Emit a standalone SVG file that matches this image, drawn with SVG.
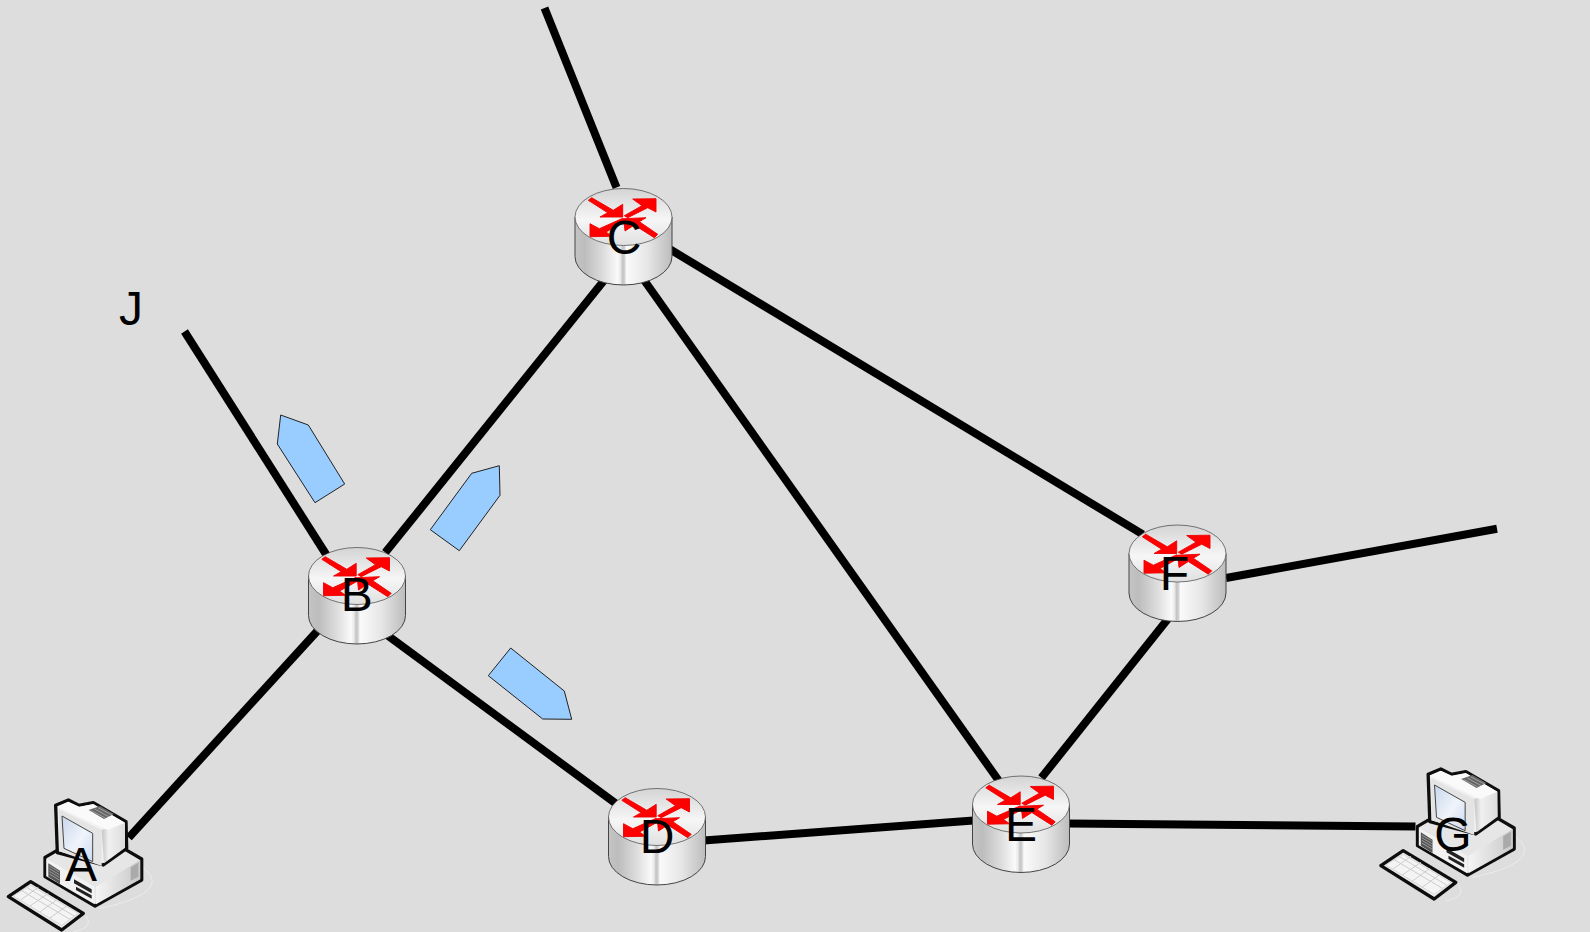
<svg xmlns="http://www.w3.org/2000/svg" width="1590" height="932" viewBox="0 0 1590 932">
<style>
.link{stroke:#000;stroke-width:8;fill:none}
.lbl{font-family:"Liberation Sans",Arial,sans-serif;font-size:48px;fill:#000;text-anchor:middle}
.pkt{fill:#99ccff;stroke:#222;stroke-width:1}
.arr{fill:#f00;stroke:#e00;stroke-width:.9;stroke-linejoin:round}
.pc{stroke:#111;stroke-width:10;stroke-linejoin:round}
.in{stroke:none}
</style>
<defs>
<filter id="soft" x="-5%" y="-5%" width="110%" height="110%"><feGaussianBlur stdDeviation=".7"/></filter>
<linearGradient id="side" x1="0" x2="1" y1="0" y2="0">
<stop offset="0" stop-color="#c4c4c4"/><stop offset=".1" stop-color="#bdbdbd"/><stop offset=".3" stop-color="#dedede"/><stop offset=".44" stop-color="#fafafa"/><stop offset=".47" stop-color="#e8e8e8"/><stop offset=".49" stop-color="#c4c4c4"/><stop offset=".51" stop-color="#d0d0d0"/><stop offset=".53" stop-color="#fafafa"/><stop offset=".75" stop-color="#e6e6e6"/><stop offset="1" stop-color="#bcbcbc"/>
</linearGradient>
<linearGradient id="top" x1="0" x2="0" y1="0" y2="1">
<stop offset="0" stop-color="#d4d4d4"/><stop offset=".55" stop-color="#f6f6f6"/><stop offset="1" stop-color="#e0e0e0"/>
</linearGradient>
<linearGradient id="scr" x1="0" x2="1" y1="0" y2="1">
<stop offset="0" stop-color="#c8d6ec"/><stop offset=".55" stop-color="#f0f4fb"/><stop offset="1" stop-color="#ccdaf0"/>
</linearGradient>
<linearGradient id="rf" x1="0" x2="1" y1="0" y2="0">
<stop offset="0" stop-color="#f4f4f4"/><stop offset="1" stop-color="#c8c8c8"/>
</linearGradient>
<linearGradient id="ms" x1="0" x2="1" y1="0" y2="0">
<stop offset="0" stop-color="#c4c4c4"/><stop offset=".3" stop-color="#f0f0f0"/><stop offset="1" stop-color="#dcdcdc"/>
</linearGradient>
<g id="router">
<path d="M0,28.5V68A48.5,28.5 0 0 0 97,68V28.5Z" fill="url(#side)" stroke="#444" stroke-width="1"/>
<ellipse cx="48.5" cy="28.5" rx="48.5" ry="28.5" fill="url(#top)" stroke="#555" stroke-width=".8"/>
<polygon class="arr" points="13.3,11.8 16.7,9.2 38.3,21.8 47.7,15.8 47.7,28.5 25,28.5 32.7,24.2"/>
<polygon class="arr" points="49.3,27.2 67,17.2 57.7,10.5 81,10.2 81,23.5 72.7,19.2 52.7,29.2"/>
<polygon class="arr" points="15,35.2 15,48.2 37,47.8 31,43.5 51,32.5 47.7,29.8 24.3,40.2"/>
<polygon class="arr" points="82.7,45.8 79.3,49.2 59.3,36.5 50,42.5 48.7,30.2 71,29.2 64.3,33.2"/>
</g>
<g id="computer" filter="url(#soft)">
<g transform="scale(.33333)">
<path d="M430,265C480,300 470,350 300,385M250,400C275,425 270,445 220,456" fill="none" stroke="#eee" stroke-width="2.5"/>
<path class="pc" d="M135,232L170,212L345,190L382,212L425,237V300L285,378L135,290Z" fill="#e6e6e6"/>
<path class="in" d="M139,236L284,320V373L139,289Z" fill="#f2f2f2"/>
<path class="in" d="M288,320L421,240V298L288,373Z" fill="url(#rf)"/>
<path class="in" d="M392,262L415,248V290L392,302Z" fill="#aaa"/>
<path d="M145,250L180,272V312L145,290Z" fill="#555"/>
<path d="M148,258L178,276M148,266L178,284M148,274L178,292M148,282L178,300" stroke="#bbb" stroke-width="2"/>
<path d="M222,298L275,328V340L222,310ZM228,330L275,356V346L228,320Z" fill="#222"/>
<path class="pc" d="M167,76L205,60L236,76L280,68L378,125L380,205L310,255L172,218Z" fill="#f0f0f0"/>
<path class="in" d="M305,150L375,128V203L312,250Z" fill="url(#ms)"/>
<path class="in" d="M322,150L375,128L280,72L238,80L205,65L172,80Z" fill="#fafafa"/>
<path d="M176,88L305,150V258L178,214Z" fill="#e4e4e4"/>
<path d="M186,108L278,160V245L192,205Z" fill="url(#scr)" stroke="#444" stroke-width="3"/>
<path d="M266,90L300,78L342,102L312,117Z" fill="#666"/>
<path d="M274,92L316,114M284,87L326,110M294,83L336,105" stroke="#bbb" stroke-width="2"/>
<path class="pc" d="M25,350L92,305L250,400L185,450Z" fill="#eaeaea"/>
<path d="M40,348L92,316L235,400L185,436Z" fill="#f4f4f4" stroke="#ccc" stroke-width="2"/>
<path d="M65,332L210,418M80,322L222,408M62,360L115,322M90,378L145,340M120,396L172,358M150,414L200,378" stroke="#ccc" stroke-width="3" fill="none"/>
</g>
</g>
</defs>
<rect width="1590" height="932" fill="#dddddd"/>
<g id="connectors">
<line class="link" x1="544.5" y1="8" x2="616.5" y2="187.6"/>
<line class="link" x1="184.5" y1="331.5" x2="326.5" y2="555"/>
<line class="link" x1="385.3" y1="552.6" x2="604.4" y2="280"/>
<line class="link" x1="128.8" y1="837.6" x2="319.4" y2="628.7"/>
<line class="link" x1="385.3" y1="633.8" x2="616.5" y2="804"/>
<line class="link" x1="644" y1="280" x2="998.8" y2="780.8"/>
<line class="link" x1="670.3" y1="249.5" x2="1142.8" y2="534.4"/>
<line class="link" x1="703.7" y1="840.6" x2="973.5" y2="820.4"/>
<line class="link" x1="1067.8" y1="823.4" x2="1415.5" y2="826.4"/>
<line class="link" x1="1041.4" y1="777.8" x2="1168.2" y2="618.6"/>
<line class="link" x1="1226" y1="578" x2="1497" y2="528.8"/>
</g>
<g id="packets">
<polygon class="pkt" points="280.7,415 308.3,425 344.7,484 315,502.7 277.3,444"/>
<polygon class="pkt" points="499.3,465.7 500,495.3 459.3,550.7 430.3,529.7 471.7,473.3"/>
<polygon class="pkt" points="510.7,648 564.3,691 571.7,719.3 542.7,719 488.3,675.7"/>
</g>
<g id="node-A"><use href="#computer" transform="translate(0,780)"/><text class="lbl" x="81" y="881">A</text></g>
<g id="node-B"><use href="#router" x="308.5" y="547.5"/><text class="lbl" x="356.7" y="611">B</text></g>
<g id="node-C"><use href="#router" x="575" y="188.5"/><text class="lbl" x="624" y="254">C</text></g>
<g id="node-D"><use href="#router" x="608.5" y="788.5"/><text class="lbl" x="657" y="853">D</text></g>
<g id="node-E"><use href="#router" x="972.5" y="776"/><text class="lbl" x="1021" y="841">E</text></g>
<g id="node-F"><use href="#router" x="1129" y="525"/><text class="lbl" x="1174.5" y="590">F</text></g>
<g id="node-G"><use href="#computer" transform="translate(1372.5,749)"/><text class="lbl" x="1453" y="851">G</text></g>
<g id="node-J"><text class="lbl" x="131" y="325">J</text></g>
</svg>
